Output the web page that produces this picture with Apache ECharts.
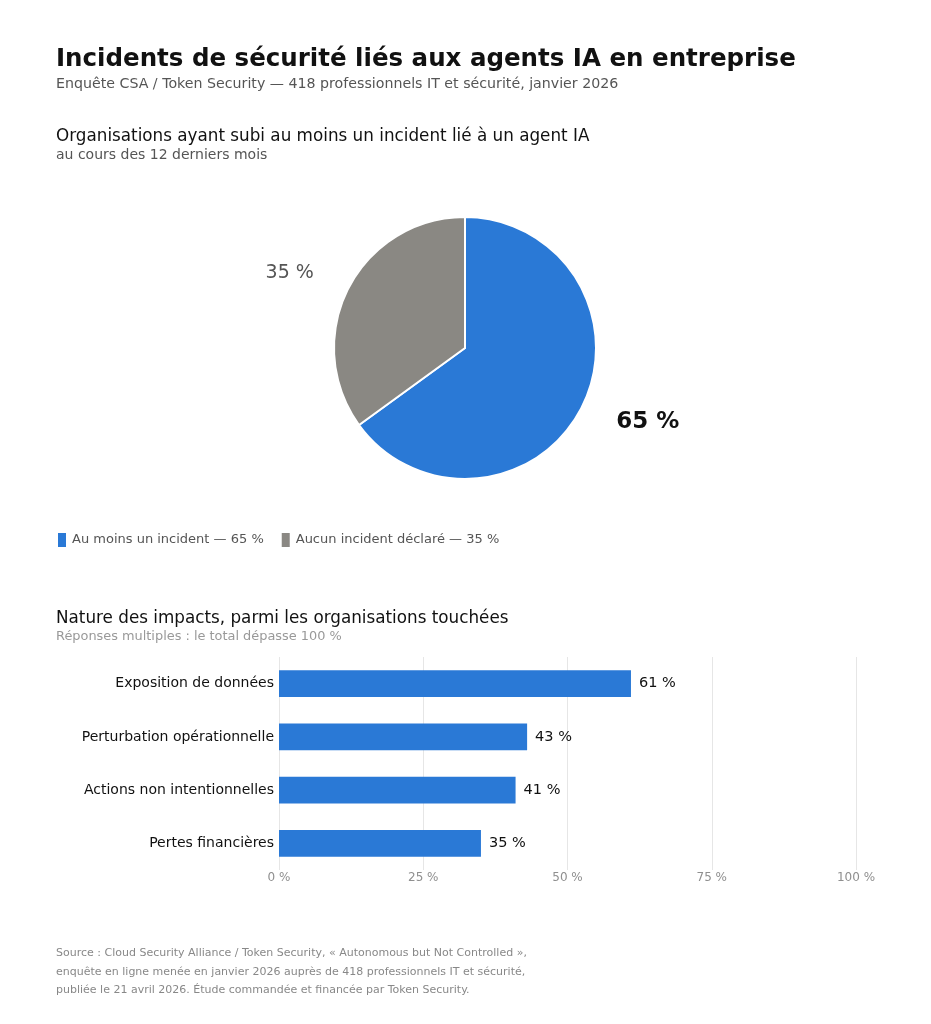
<!DOCTYPE html>
<html lang="fr">
<head>
    <meta charset="UTF-8">
    <title>Incidents de sécurité liés aux agents IA</title>
    <script src="https://cdn.jsdelivr.net/npm/echarts@6/dist/echarts.min.js"></script>
    <style>
        html, body { margin: 0; padding: 0; background: #fff; }
        #chart { width: 931px; height: 1024px; }
    </style>
</head>
<body>
    <div id="chart"></div>
    <script>
        // données
        var pieNames = ['Au moins un incident', 'Aucun incident déclaré'];
        var pieValues = [65, 35];
        var pieColors = ['#2a79d6', '#8a8883'];

        var impactCategories = ['Exposition de données', 'Perturbation opérationnelle', 'Actions non intentionnelles', 'Pertes financières'];
        var impactValues = [61, 43, 41, 35];

        var xTicks = [0, 25, 50, 75, 100];

        var FONT = 'DejaVu Sans';
        var BLUE = '#2a79d6';

        var chart = echarts.init(document.getElementById('chart'));

        var pieData = pieNames.map(function (n, i) {
            var big = i === 0;
            return {
                name: n,
                value: pieValues[i],
                itemStyle: { color: pieColors[i] },
                label: {
                    fontSize: big ? 23 : 19,
                    fontWeight: big ? 'bold' : 'normal',
                    color: big ? '#111' : '#555'
                }
            };
        });

        var option = {
            backgroundColor: '#fff',
            animation: false,
            textStyle: { fontFamily: FONT },
            title: [
                {
                    text: 'Incidents de sécurité liés aux agents IA en entreprise',
                    left: 56, top: 45, padding: 0,
                    textStyle: { fontFamily: FONT, fontSize: 24.5, fontWeight: 'bold', color: '#111', lineHeight: 30 }
                },
                {
                    text: 'Enquête CSA / Token Security — 418 professionnels IT et sécurité, janvier 2026',
                    left: 56, top: 75, padding: 0,
                    textStyle: { fontFamily: FONT, fontSize: 14.2, fontWeight: 'normal', color: '#555', lineHeight: 18 }
                },
                {
                    text: 'Organisations ayant subi au moins un incident lié à un agent IA',
                    left: 56, top: 126, padding: 0,
                    textStyle: { fontFamily: FONT, fontSize: 16.8, fontWeight: 'normal', color: '#111', lineHeight: 22 }
                },
                {
                    text: 'au cours des 12 derniers mois',
                    left: 56, top: 146, padding: 0,
                    textStyle: { fontFamily: FONT, fontSize: 14, fontWeight: 'normal', color: '#555', lineHeight: 18 }
                },
                {
                    text: 'Nature des impacts, parmi les organisations touchées',
                    left: 56, top: 608, padding: 0,
                    textStyle: { fontFamily: FONT, fontSize: 16.8, fontWeight: 'normal', color: '#111', lineHeight: 22 }
                },
                {
                    text: 'Réponses multiples : le total dépasse 100 %',
                    left: 56, top: 629, padding: 0,
                    textStyle: { fontFamily: FONT, fontSize: 12.9, fontWeight: 'normal', color: '#999', lineHeight: 16 }
                },
                {
                    text: 'Source : Cloud Security Alliance / Token Security, « Autonomous but Not Controlled »,\n' +
                          'enquête en ligne menée en janvier 2026 auprès de 418 professionnels IT et sécurité,\n' +
                          'publiée le 21 avril 2026. Étude commandée et financée par Token Security.',
                    left: 56, top: 944, padding: 0,
                    textStyle: { fontFamily: FONT, fontSize: 11, fontWeight: 'normal', color: '#888', lineHeight: 18.5 }
                }
            ],
            legend: {
                left: 56, top: 531, padding: 0,
                icon: 'rect', itemWidth: 10, itemHeight: 16, itemGap: 16,
                selectedMode: false,
                data: pieNames,
                formatter: function (name) {
                    var i = pieNames.indexOf(name);
                    return name + ' — ' + pieValues[i] + ' %';
                },
                textStyle: { fontFamily: FONT, fontSize: 13, color: '#555' }
            },
            grid: { left: 279, right: 75, top: 657, bottom: 154, containLabel: false },
            xAxis: {
                type: 'value',
                min: 0, max: 100, interval: 25,
                axisLine: { show: false },
                axisTick: { show: false },
                splitLine: { show: true, lineStyle: { color: '#e6e6e6', width: 1 } },
                axisLabel: {
                    margin: 2,
                    color: '#8f8f8f', fontSize: 12, fontFamily: FONT,
                    formatter: function (v) { return xTicks.indexOf(v) >= 0 ? v + ' %' : ''; }
                }
            },
            yAxis: {
                type: 'category',
                inverse: true,
                data: impactCategories,
                axisLine: { show: false },
                axisTick: { show: false },
                axisLabel: { margin: 5, color: '#111', fontSize: 14, fontFamily: FONT }
            },
            series: [
                {
                    type: 'pie',
                    center: [465, 348],
                    radius: 131,
                    startAngle: 90,
                    clockwise: true,
                    avoidLabelOverlap: false,
                    legendHoverLink: false,
                    itemStyle: { borderColor: '#fff', borderWidth: 2 },
                    label: {
                        show: true,
                        position: 'outside',
                        fontFamily: FONT,
                        formatter: '{c} %'
                    },
                    labelLine: { show: false, length: 33, length2: 0 },
                    emphasis: { disabled: true },
                    data: pieData
                },
                {
                    type: 'bar',
                    barWidth: '50%',
                    itemStyle: { color: BLUE },
                    label: {
                        show: true, position: 'right', distance: 8,
                        color: '#111', fontSize: 14.5, fontFamily: FONT,
                        formatter: '{c} %'
                    },
                    emphasis: { disabled: true },
                    data: impactValues
                }
            ]
        };

        chart.setOption(option);
    </script>
</body>
</html>
